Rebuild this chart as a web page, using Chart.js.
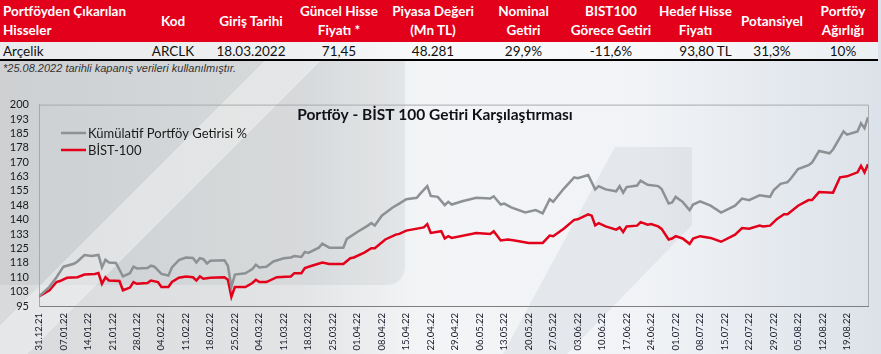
<!DOCTYPE html>
<html>
<head>
<meta charset="utf-8">
<script src="https://cdn.jsdelivr.net/npm/chart.js@4.4.0/dist/chart.umd.min.js"></script>
<style>
  html, body { margin: 0; padding: 0; }
  body {
    width: 881px; height: 354px; position: relative; overflow: hidden;
    font-family: Lato, sans-serif;
    background: linear-gradient(90deg, #d8dadc 0px, #e2e4e6 300px, #f2f4f6 420px, #f1f3f6 640px, #dce2e9 881px);
  }
  .shape { position: absolute; }
  #leftBox { left: 0; top: 60px; width: 405px; height: 225px; background: rgba(120,125,130,0.10); border-bottom-right-radius: 18px; }
  #stripe { left: 0; top: 60px; width: 405px; height: 294px; background: linear-gradient(135deg, transparent 38%, rgba(255,255,255,0.35) 38%, rgba(255,255,255,0.35) 46%, transparent 46%); }
  #band { left: 0; top: 0; width: 881px; height: 354px; background: rgba(120,128,136,0.10);
          clip-path: polygon(615px 147px, 692px 147px, 692px 225px, 567px 354px, 503px 354px); }
  table { position: absolute; left: 0; top: 0; width: 878px; border-collapse: collapse; table-layout: fixed; }
  th { background: #e2001a; color: #fff; font-weight: bold; font-size: 13.5px; line-height: 19px; height: 42px; padding: 0; text-align: center; vertical-align: middle; }
  th.first { text-align: left; padding-left: 3px; }
  td { font-size: 13.5px; color: #111; text-align: center; height: 17px; padding: 0; border-bottom: 2px solid #000; background: rgba(255,255,255,0.45); }
  td.first { text-align: left; padding-left: 3px; }
  #note { position: absolute; left: 3px; top: 62px; font-family: "Liberation Sans", Arial, sans-serif; font-style: italic; font-size: 11px; color: #333; }
  #chart { position: absolute; left: 0; top: 88px; }
</style>
</head>
<body>
<div class="shape" id="leftBox"></div>
<div class="shape" id="stripe"></div>
<div class="shape" id="band"></div>

<table>
  <colgroup>
    <col style="width:136px"><col style="width:74px"><col style="width:82px"><col style="width:94px"><col style="width:94px">
    <col style="width:87px"><col style="width:88px"><col style="width:81px"><col style="width:72px"><col style="width:70px">
  </colgroup>
  <tr>
    <th class="first">Portföyden Çıkarılan<br>Hisseler</th>
    <th>Kod</th>
    <th>Giriş Tarihi</th>
    <th>Güncel Hisse<br>Fiyatı *</th>
    <th>Piyasa Değeri<br>(Mn TL)</th>
    <th>Nominal<br>Getiri</th>
    <th>BIST100<br>Görece Getiri</th>
    <th>Hedef Hisse<br>Fiyatı</th>
    <th>Potansiyel</th>
    <th>Portföy<br>Ağırlığı</th>
  </tr>
  <tr>
    <td class="first">Arçelik</td>
    <td>ARCLK</td>
    <td>18.03.2022</td>
    <td>71,45</td>
    <td>48.281</td>
    <td>29,9%</td>
    <td>-11,6%</td>
    <td style="padding-left:20px">93,80 TL</td>
    <td>31,3%</td>
    <td>10%</td>
  </tr>
</table>
<div id="note">*25.08.2022 tarihli kapanış verileri kullanılmıştır.</div>

<canvas id="chart" width="881" height="266"></canvas>

<script>
// days counted from 31.12.2021
var portfolioDays = [0,3,5,7,10,11,13,15,17,18,19,20,22,24,26,27,28,31,32,33,35,37,38,40,42,44,45,46,47,48,49,53,54,55,56,59,
  61,62,63,65,67,70,72,73,75,76,77,80,81,83,87,88,91,94,95,96,98,101,103,105,108,109,111,112,114,116,117,118,
  121,125,129,130,132,133,135,139,142,144,146,147,150,153,154,157,159,160,162,165,166,167,168,171,172,174,177,178,
  180,181,182,184,186,187,189,192,195,199,201,203,206,209,210,212,214,215,217,220,221,223,226,227,230,231,234,235,236,237];
var portfolioValues = [100,105,110,115.5,117,118.2,121.6,121.1,121.6,115.1,119.1,117.7,117.4,110.4,112.1,115.5,114.6,114.8,116,115.5,111.7,110.9,115.1,118.9,120.3,120,117.7,119.9,119.4,117.2,118.6,118.9,116,104.9,111.4,112.1,
  114.3,116.5,115.1,115.5,118.2,119.9,120.3,121,120.6,123.2,122.7,125.4,127.5,125.4,125.4,130,133.6,136.9,138.2,137,142.1,146.2,148.4,150.7,151.4,153.6,157.5,152.4,151.9,147.6,149.3,147.9,
  149.6,151.4,151,152.2,147.9,148.4,146.4,143.8,145,143.3,150.7,149.3,156.1,162.1,161.6,163.3,155.8,157.5,155.8,154.8,157.5,154.1,157,157.8,160.4,158.2,157.5,156,
  148.4,149,151.9,149.3,145,147.9,149.6,147.3,143.7,147.3,151,150.2,152.7,151.9,155.3,158.7,159.6,161.6,166.4,168.4,169.8,175.8,174.6,176.6,186,184.3,186,190.3,187.7,193.4];

var bistDays = [0,3,5,6,8,11,13,16,17,18,19,20,23,24,26,27,28,31,32,34,35,37,38,40,42,44,45,46,47,49,53,54,55,56,59,
  61,62,63,65,68,72,73,75,76,78,81,83,87,89,90,93,95,96,99,102,103,105,110,111,112,115,116,117,118,
  125,129,130,132,134,136,140,144,146,147,150,153,154,157,158,159,160,162,165,166,167,168,171,172,174,175,177,178,
  180,181,182,184,186,187,189,192,195,199,201,203,206,207,209,211,213,214,217,220,221,223,227,229,231,234,235,236,237];
var bistValues = [100,103.2,107.5,108,109.7,110,111.4,111.7,112.2,106.6,110,108.3,108,103.2,104.6,107.5,106.6,107,108.3,107.5,104.9,104.9,107.5,109.7,110.4,110,108.3,110.4,109.2,109.7,110,108.7,99.8,104.9,104.9,
  107,108.7,107.5,107.5,110,110.4,112.1,112.1,114.8,116,117.7,116.9,116.9,119.9,120.3,122.8,125.1,125.1,129.7,132.2,132.6,134.3,136,137.7,133.1,134,130.2,131.4,130.5,
  133.1,132.6,134,129.2,129.7,129.2,127.9,127.9,131.7,131.4,135.3,139.9,140.2,142.8,142.1,137,138.2,136.5,134.8,136,133.6,136.5,136.9,138.7,137.4,137.7,136.5,135.2,
  129.7,130.2,131.4,130.2,127.4,130.2,131.4,130.5,128.5,132.2,135.6,135.3,137,136.5,136.9,140.4,142.8,142.8,147.3,150.2,150.2,154.4,154.1,162.1,162.6,164.7,168.1,164.7,168.9];

var tickLabels = ['31.12.21','07.01.22','14.01.22','21.01.22','28.01.22','04.02.22','11.02.22','18.02.22','25.02.22',
  '04.03.22','11.03.22','18.03.22','25.03.22','01.04.22','08.04.22','15.04.22','22.04.22','29.04.22','06.05.22',
  '13.05.22','20.05.22','27.05.22','03.06.22','10.06.22','17.06.22','24.06.22','01.07.22','08.07.22','15.07.22',
  '22.07.22','29.07.22','05.08.22','12.08.22','19.08.22'];

var seriesNames = ['Kümülatif Portföy Getirisi %', 'BİST-100'];
var seriesColors = ['#8e9194', '#e2001a'];
var chartTitle = 'Portföy - BİST 100 Getiri Karşılaştırması';

function toPoints(days, values) {
  var pts = [];
  for (var i = 0; i < days.length; i++) pts.push({x: days[i], y: values[i]});
  return pts;
}

// title, legend and the top/right frame sit inside the plot area
var overlay = {
  id: 'overlay',
  beforeDatasetsDraw: function(chart) {
    var a = chart.chartArea, ctx = chart.ctx;
    ctx.save();
    ctx.strokeStyle = '#a8abae';
    ctx.lineWidth = 1;
    ctx.beginPath();
    ctx.moveTo(a.left, a.top + 0.5);
    ctx.lineTo(a.right + 0.5, a.top + 0.5);
    ctx.lineTo(a.right + 0.5, a.bottom);
    ctx.stroke();
    ctx.restore();
  },
  afterDraw: function(chart) {
    var ctx = chart.ctx;
    ctx.save();
    ctx.fillStyle = '#101018';
    ctx.font = 'bold 15.5px Lato';
    ctx.textAlign = 'center';
    ctx.textBaseline = 'middle';
    ctx.fillText(chartTitle, 435, 27);
    ctx.font = '13px Lato';
    ctx.textAlign = 'left';
    for (var i = 0; i < seriesNames.length; i++) {
      var y = 45 + i * 17;
      ctx.strokeStyle = seriesColors[i];
      ctx.lineWidth = 2.5;
      ctx.beginPath();
      ctx.moveTo(61, y);
      ctx.lineTo(86, y);
      ctx.stroke();
      ctx.fillStyle = '#1a1a1a';
      ctx.fillText(seriesNames[i], 88, y + 1);
    }
    ctx.restore();
  }
};

new Chart(document.getElementById('chart'), {
  type: 'line',
  data: {
    datasets: [{
      label: seriesNames[0],
      data: toPoints(portfolioDays, portfolioValues),
      borderColor: seriesColors[0],
      borderWidth: 2.5,
      pointRadius: 0,
      tension: 0,
      fill: false
    }, {
      label: seriesNames[1],
      data: toPoints(bistDays, bistValues),
      borderColor: seriesColors[1],
      borderWidth: 2.5,
      pointRadius: 0,
      tension: 0,
      fill: false
    }]
  },
  options: {
    responsive: false,
    animation: false,
    devicePixelRatio: 1,
    layout: { padding: { top: 13, right: 13, left: 0, bottom: 0 } },
    plugins: { legend: { display: false }, title: { display: false }, tooltip: { enabled: false } },
    scales: {
      x: {
        type: 'linear',
        min: 0,
        max: 237,
        grid: { display: false, drawTicks: false },
        border: { display: true, color: '#7f7f7f', width: 1 },
        ticks: {
          stepSize: 7,
          autoSkip: false,
          includeBounds: false,
          minRotation: 90,
          maxRotation: 90,
          padding: 7,
          color: '#1c1c2c',
          font: { family: 'Lato', size: 9.5 },
          callback: function(v) { return tickLabels[v / 7] || ''; }
        },
        afterFit: function(scale) { scale.height = 48; }
      },
      y: {
        min: 95,
        max: 200,
        grid: { display: false, drawTicks: false },
        border: { display: true, color: '#a8abae', width: 1 },
        ticks: {
          stepSize: 7.5,
          autoSkip: false,
          padding: 10,
          color: '#1a1a1a',
          font: { family: 'Lato', size: 11 },
          callback: function(v) { return Math.round(v); }
        },
        afterFit: function(scale) { scale.width = 39; }
      }
    }
  },
  plugins: [overlay]
});
</script>
</body>
</html>
